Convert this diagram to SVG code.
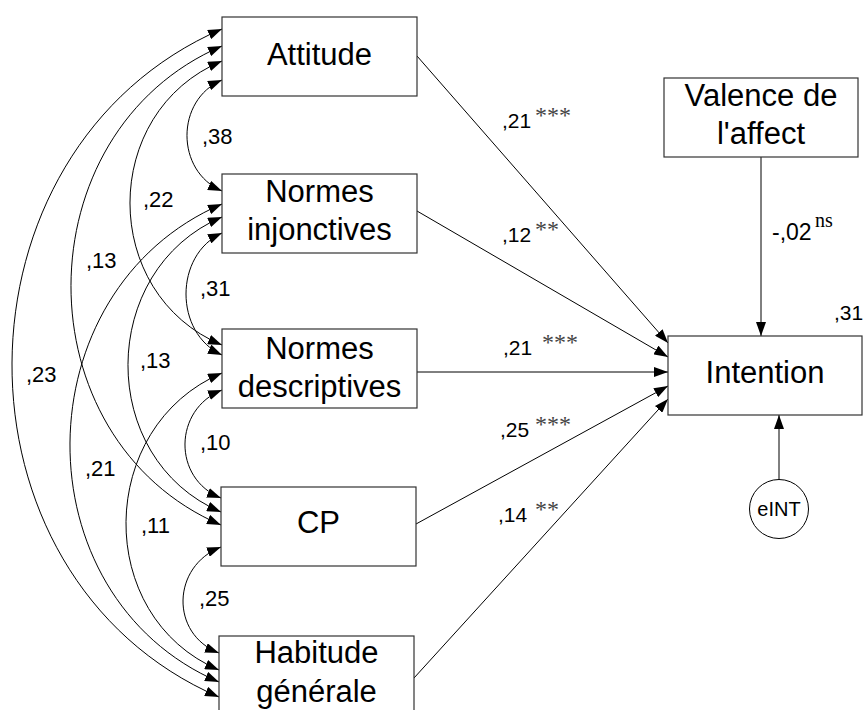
<svg xmlns="http://www.w3.org/2000/svg" width="864" height="710" viewBox="0 0 864 710">
<defs>
<marker id="ah" viewBox="0 0 14 10" markerWidth="14" markerHeight="10" refX="14" refY="5" orient="auto-start-reverse" markerUnits="userSpaceOnUse"><path d="M0,0 L14,5 L0,10 z" fill="#000"/></marker>
<style>
.box{fill:#fff;stroke:#333;stroke-width:1.2}
.lbl{font-family:"Liberation Sans",Arial,sans-serif;font-size:31px;fill:#000;text-anchor:middle}
.c{font-family:"Liberation Sans",Arial,sans-serif;font-size:22px;fill:#000}
.p{font-family:"Liberation Sans",Arial,sans-serif;font-size:21px;fill:#000}
.p2{font-family:"Liberation Sans",Arial,sans-serif;font-size:23px;fill:#000}
.st{font-family:"Liberation Serif","Times New Roman",serif;font-size:24px;fill:#444}
.ns{font-family:"Liberation Serif","Times New Roman",serif;font-size:20px;fill:#000}
.e{font-family:"Liberation Sans",Arial,sans-serif;font-size:20px;fill:#000;text-anchor:middle}
.arc{fill:none;stroke:#000;stroke-width:1;marker-start:url(#ah);marker-end:url(#ah)}
.arr{fill:none;stroke:#000;stroke-width:1;marker-end:url(#ah)}
</style>
</defs>
<rect width="864" height="710" fill="#fff"/>
<g id="connectors">
<path class="arc" d="M222,80 C175.3,100 175.3,171 222,191"/>
<path class="arc" d="M222,233 C174,255 174,333 222,355"/>
<path class="arc" d="M222,390 C173.3,409.4 172.3,478.6 221,498"/>
<path class="arc" d="M221,547 C171.7,566.1 169.7,633.9 219,653"/>
<path class="arc" d="M222,61 C99.3,112 99.3,294 222,345"/>
<path class="arc" d="M222,217 C97.3,270 96.3,459 221,512"/>
<path class="arc" d="M222,373 C96,426.5 93,616.5 219,670"/>
<path class="arc" d="M222,46 C21.3,132 20.3,439 221,525"/>
<path class="arc" d="M222,204 C21.3,290 18.3,596 219,682"/>
<path class="arc" d="M222,29 C-56,149 -59,577 219,697"/>
<path class="arr" d="M417,56 L668,343"/>
<path class="arr" d="M417,211 L668,357"/>
<path class="arr" d="M417,372 L668,372"/>
<path class="arr" d="M416,524 L668,386"/>
<path class="arr" d="M414,678 L668,399"/>
<path class="arr" d="M761,157 L761,336"/>
<path class="arr" d="M779,479.5 L779,415"/>
<text class="c" x="202" y="144">,38</text>
<text class="c" x="143" y="207">,22</text>
<text class="c" x="86" y="268">,13</text>
<text class="c" x="200" y="296">,31</text>
<text class="c" x="140" y="368">,13</text>
<text class="c" x="26" y="382">,23</text>
<text class="c" x="200" y="450">,10</text>
<text class="c" x="85" y="476">,21</text>
<text class="c" x="141" y="533">,11</text>
<text class="c" x="199" y="606">,25</text>
<text class="p" x="502" y="128">,21</text><text class="st" x="535" y="123">***</text>
<text class="p" x="502" y="242">,12</text><text class="st" x="535" y="237">**</text>
<text class="p" x="503" y="355">,21</text><text class="st" x="542" y="350">***</text>
<text class="p" x="500" y="437">,25</text><text class="st" x="535" y="432">***</text>
<text class="p" x="498" y="522">,14</text><text class="st" x="535" y="517">**</text>
<text class="p2" x="772" y="240">-,02</text><text class="ns" x="815" y="227">ns</text>
<text class="p" x="834" y="320">,31</text>
</g>
<g id="attitude"><rect class="box" x="222" y="17" width="195" height="79"/><text class="lbl" x="319.5" y="65">Attitude</text></g>
<g id="normes-injonctives"><rect class="box" x="222" y="174" width="195" height="79"/><text class="lbl" x="319.5" y="202">Normes</text><text class="lbl" x="319.5" y="240">injonctives</text></g>
<g id="normes-descriptives"><rect class="box" x="222" y="329" width="195" height="79"/><text class="lbl" x="319.5" y="359">Normes</text><text class="lbl" x="319.5" y="397">descriptives</text></g>
<g id="cp"><rect class="box" x="221" y="487" width="195" height="79"/><text class="lbl" x="318.5" y="533">CP</text></g>
<g id="habitude-generale"><rect class="box" x="219" y="636" width="195" height="79"/><text class="lbl" x="316.5" y="663">Habitude</text><text class="lbl" x="316.5" y="702">générale</text></g>
<g id="valence"><rect class="box" x="664" y="78" width="194" height="79"/><text class="lbl" x="761" y="106">Valence de</text><text class="lbl" x="761" y="144">l'affect</text></g>
<g id="intention"><rect class="box" x="668" y="336" width="194" height="79"/><text class="lbl" x="765" y="383">Intention</text></g>
<g id="eint"><circle cx="779" cy="509" r="29.5" fill="#fff" stroke="#000" stroke-width="1"/><text class="e" x="779" y="516">eINT</text></g>
</svg>
